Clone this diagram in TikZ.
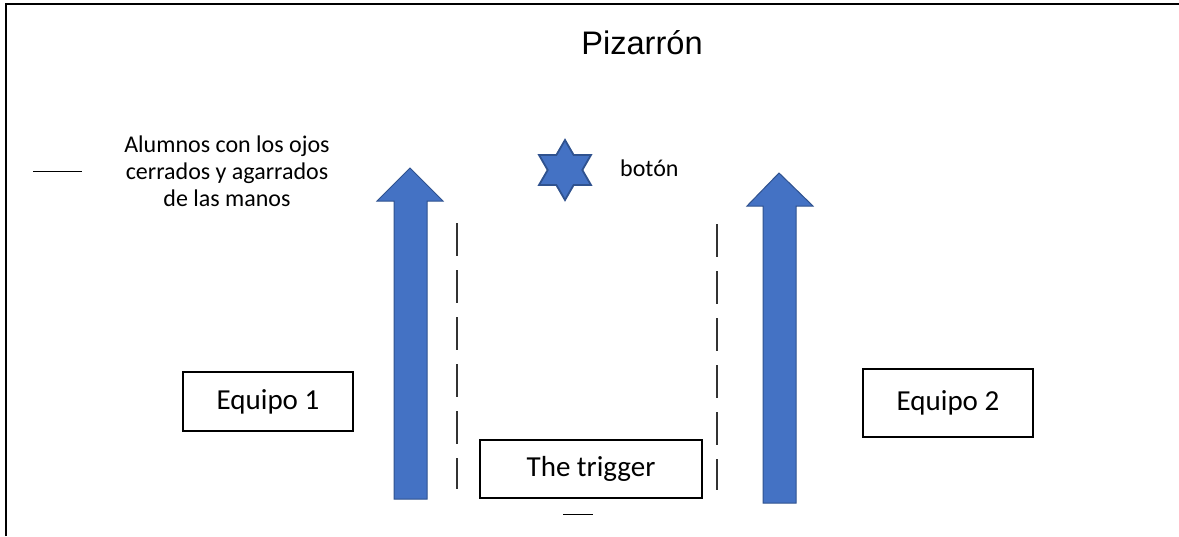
\documentclass[tikz,border=0pt]{standalone}
\usepackage{fontspec}
\setmainfont{Carlito}
\newfontfamily\arialfont{Liberation Sans}
\definecolor{arrowfill}{HTML}{4472C4}
\definecolor{arrowedge}{HTML}{2F528F}
\begin{document}
\begin{tikzpicture}[x=1pt,y=-1pt,
  labelbox/.style={draw=black,line width=1.3pt,inner sep=0pt,font=\fontsize{29}{34}\selectfont},
  blockarrow/.style={fill=arrowfill,draw=arrowedge,line width=1pt,line join=miter},
  lane/.style={draw=black!80,line width=1.2pt,dash pattern=on 33pt off 14pt},
  note/.style={font=\fontsize{24}{27}\selectfont,align=center,inner sep=0pt}]
\useasboundingbox (0,0) rectangle (1179,536);
% frame of the board
\draw[line width=2pt] (6,536) -- (6,4) -- (1179,4);
\node[font=\arialfont\fontsize{32.6}{38}\selectfont,inner sep=0pt] (board) at (642,43) {Pizarrón};
% students holding hands
\node[note] (students) at (227,171) {Alumnos con los ojos\\cerrados y agarrados\\de las manos};
\coordinate (legA) at (33,171);
\coordinate (legB) at (82,171);
\draw[line width=1pt] (legA) -- (legB);
% button
\draw[blockarrow,line width=1.8pt,shift={(565,170)}]
  (90:30) -- (120:17.32) -- (150:30) -- (180:17.32) -- (210:30) -- (240:17.32)
  -- (270:30) -- (300:17.32) -- (330:30) -- (0:17.32) -- (30:30) -- (60:17.32) -- cycle;
\node[note,anchor=west] (button) at (620,168) {botón};
% team arrows
\draw[blockarrow] (394,499) -- (394,201) -- (377,201) -- (410,168) -- (443,201)
  -- (427,201) -- (427,499) -- cycle;
\draw[blockarrow] (763,503) -- (763,206) -- (747,206) -- (779,173) -- (813,206)
  -- (796,206) -- (796,503) -- cycle;
% lanes
\coordinate (laneLtop) at (457,223);
\coordinate (laneLbot) at (457,489);
\coordinate (laneRtop) at (717,224);
\coordinate (laneRbot) at (717,490);
\draw[lane] (laneLtop) -- (laneLbot);
\draw[lane] (laneRtop) -- (laneRbot);
% boxes
\node[labelbox,minimum width=170pt,minimum height=59pt] (team1) at (268,401.5) {Equipo 1};
\node[labelbox,minimum width=170pt,minimum height=68pt] (team2) at (948,403) {Equipo 2};
\node[labelbox,minimum width=222pt,minimum height=58pt] (trigger) at (591,469) {The trigger};
\coordinate (markA) at (563,514);
\coordinate (markB) at (593,514);
\draw[line width=1pt] (markA) -- (markB);
\end{tikzpicture}
\end{document}
